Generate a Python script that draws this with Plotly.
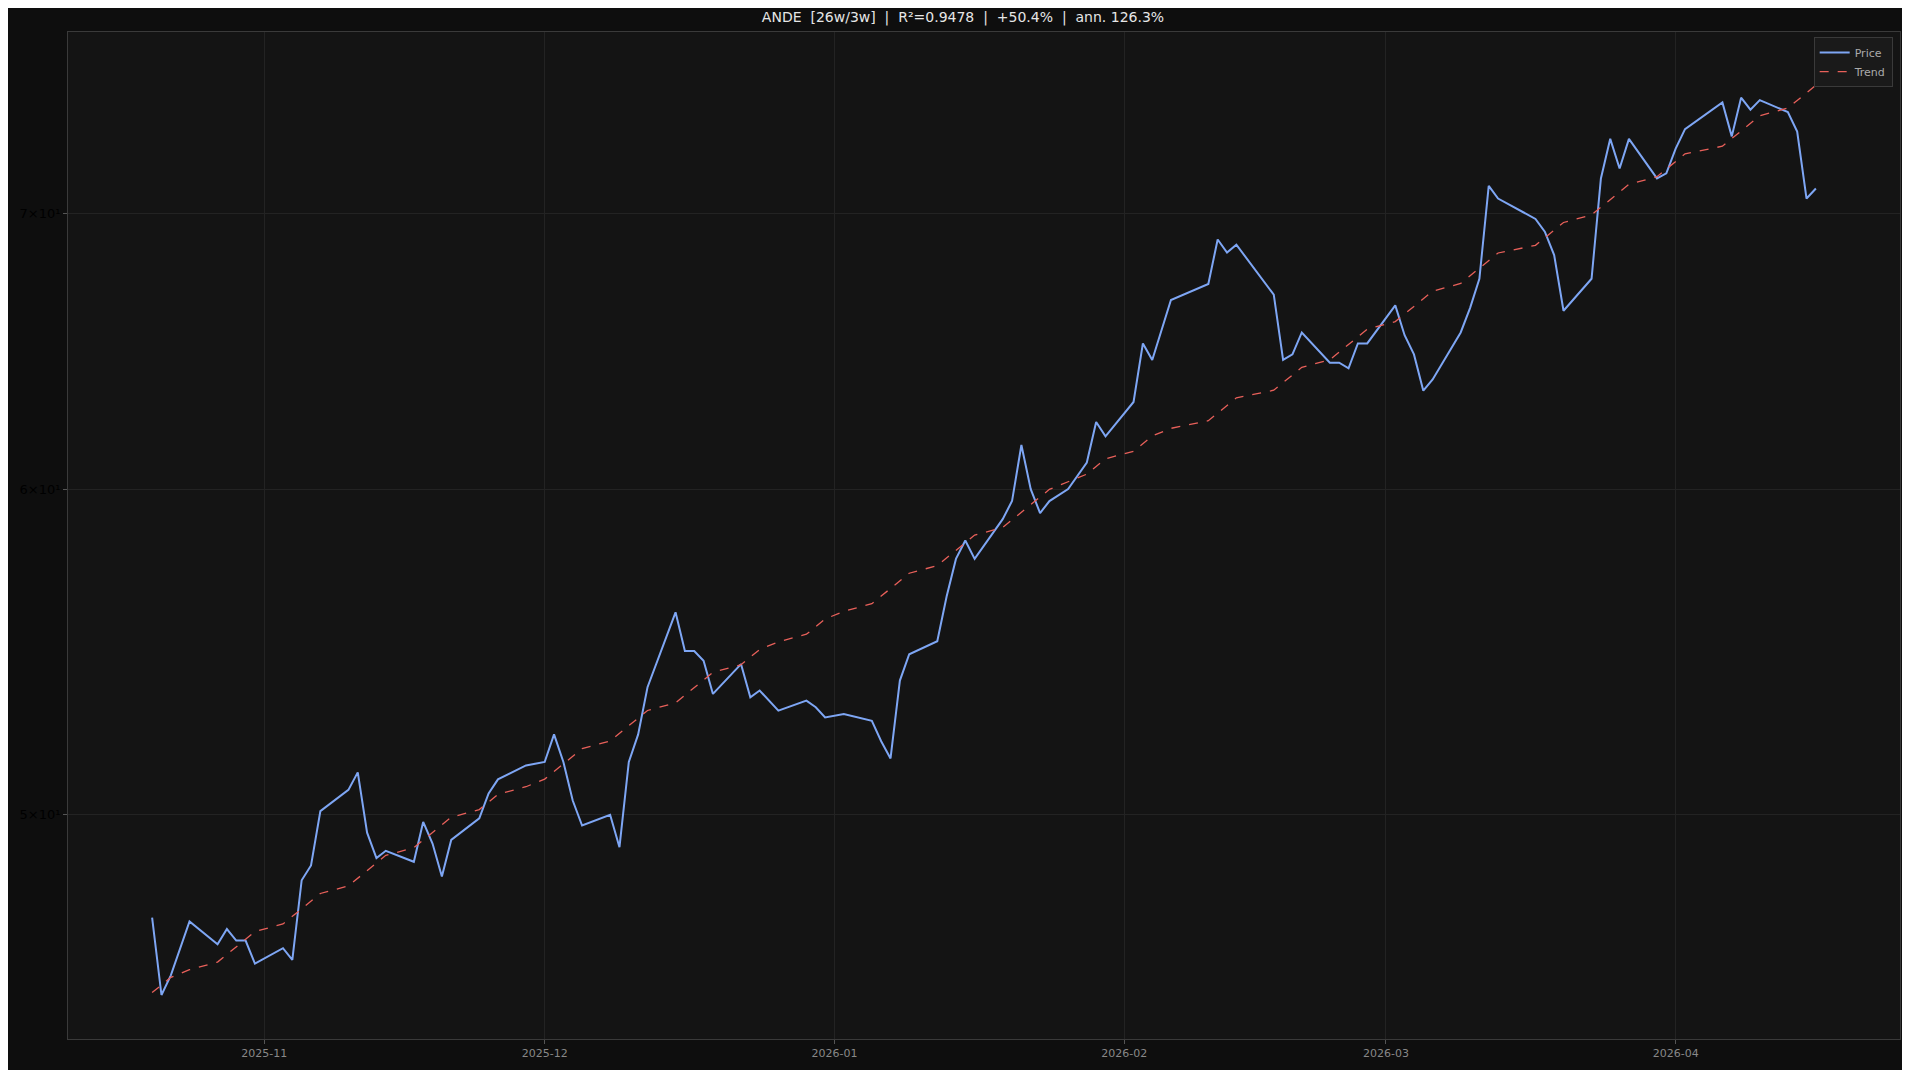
import numpy as np
import pandas as pd
import plotly.graph_objects as go

start_date = "2025-10-20"
day_offsets = [0,1,2,4,7,8,9,10,11,14,15,16,17,18,21,22,23,24,25,28,29,30,31,32,35,36,37,40,42,43,44,45,46,
               49,50,51,52,53,56,57,58,59,60,63,64,65,67,70,71,72,74,77,78,79,80,81,84,85,86,87,88,91,92,93,
               94,95,96,98,100,101,102,105,106,107,109,113,114,115,116,120,121,122,123,126,127,128,129,130,
               133,134,135,136,137,140,141,142,143,144,148,149,150,151,154,155,156,157,158,161,162,163,164,
               168,169,170,171,172,175,176,177,178]
price = [47.2,45.2,45.7,47.1,46.5,46.9,46.6,46.6,46.0,46.4,46.1,48.2,48.6,50.1,50.7,51.2,49.5,48.8,49.0,
         48.7,49.8,49.2,48.3,49.3,49.9,50.6,51.0,51.4,51.5,52.3,51.5,50.4,49.7,50.0,49.1,51.5,52.3,53.7,
         56.0,54.8,54.8,54.5,53.5,54.4,53.4,53.6,53.0,53.3,53.1,52.8,52.9,52.7,52.1,51.6,53.9,54.7,55.1,
         56.5,57.7,58.3,57.7,59.0,59.6,61.5,60.0,59.2,59.6,60.0,60.9,62.3,61.8,63.0,65.1,64.5,66.7,67.3,
         69.0,68.5,68.8,66.9,64.5,64.7,65.5,64.4,64.4,64.2,65.1,65.1,66.5,65.4,64.7,63.4,63.8,65.5,66.4,
         67.5,71.1,70.6,69.8,69.3,68.4,66.3,67.5,71.4,73.0,71.8,73.0,71.4,71.6,72.6,73.4,74.5,73.1,74.7,
         74.2,74.6,74.1,73.3,70.6,71.0]
title_text = "ANDE  [26w/3w]  |  R²=0.9478  |  +50.4%  |  ann. 126.3%"
y_tickvals = [50, 60, 70]
y_ticktext = ["5×10¹", "6×10¹", "7×10¹"]
x_tickvals = ["2025-11-01", "2025-12-01", "2026-01-01", "2026-02-01", "2026-03-01", "2026-04-01"]
x_ticktext = ["2025-11", "2025-12", "2026-01", "2026-02", "2026-03", "2026-04"]

dates = pd.Timestamp(start_date) + pd.to_timedelta(day_offsets, unit="D")
idx = np.arange(len(price))
coef = np.polyfit(idx, np.log(price), 1)
trend = np.exp(np.polyval(coef, idx))

fig = go.Figure()
fig.add_trace(go.Scatter(x=dates, y=price, mode="lines", name="Price",
                         line=dict(color="#7ea6f4", width=2)))
fig.add_trace(go.Scatter(x=dates, y=trend, mode="lines", name="Trend",
                         line=dict(color="#e8605a", width=1.3, dash="dash")))
fig.update_layout(
    width=1910, height=1070,
    paper_bgcolor="#0e0e0e", plot_bgcolor="#141414",
    margin=dict(l=60, r=18, t=24, b=39),
    title=dict(text=title_text, x=0.5, xanchor="center", y=0.9915, yanchor="middle",
               font=dict(family="DejaVu Sans", size=14, color="#e6e6e6")),
    font=dict(family="DejaVu Sans", color="#999999"),
    showlegend=True,
    legend=dict(x=0.996, y=0.995, xanchor="right", yanchor="top",
                bgcolor="#1a1a1a", bordercolor="#3a3a3a", borderwidth=1,
                font=dict(size=11, color="#aaaaaa")),
)
fig.update_xaxes(range=["2025-10-11", "2026-04-25"], tickvals=x_tickvals, ticktext=x_ticktext,
                 showgrid=True, gridcolor="#232323", zeroline=False,
                 showline=True, linecolor="#3a3a3a", mirror=True,
                 ticks="outside", ticklen=4, tickcolor="#555555",
                 tickfont=dict(size=11, color="#888888"))
fig.update_yaxes(type="log", range=[np.log10(44.1), np.log10(77.5)], tickvals=y_tickvals, ticktext=y_ticktext,
                 showgrid=True, gridcolor="#232323", zeroline=False,
                 showline=True, linecolor="#3a3a3a", mirror=True,
                 ticks="outside", ticklen=4, tickcolor="#555555",
                 tickfont=dict(size=13, color="#000000"))
fig.write_html("out.html")
